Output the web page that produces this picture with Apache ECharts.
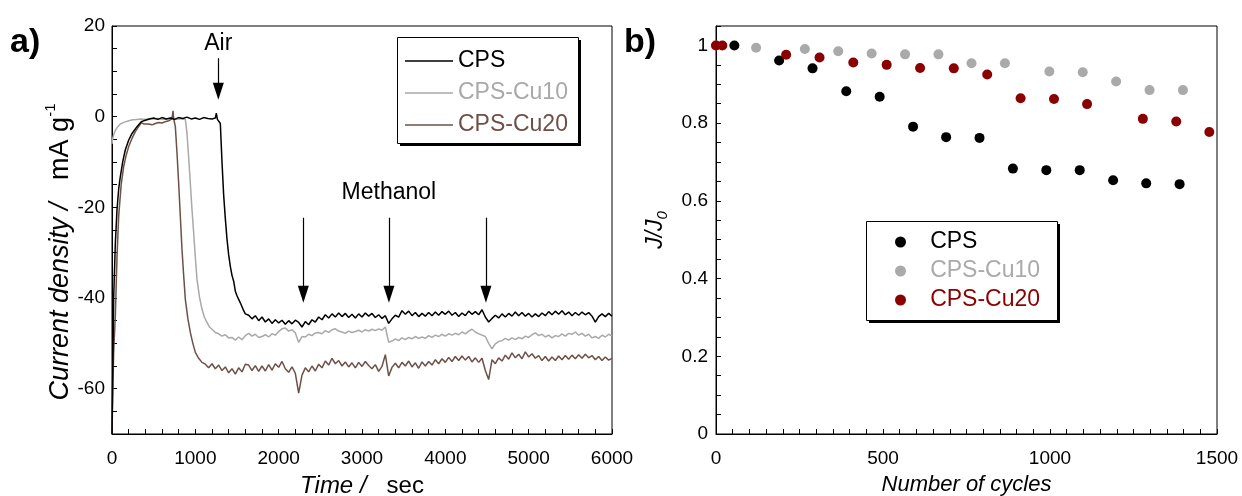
<!DOCTYPE html>
<html><head><meta charset="utf-8">
<script src="https://cdn.jsdelivr.net/npm/echarts@6/dist/echarts.min.js"></script>
<style>html,body{margin:0;padding:0;background:#fff}#c{width:1242px;height:496px}</style>
</head><body><div id="c"></div>
<script>
// ---------- Panel a) chronoamperometry ----------
const seriesNames = ['CPS', 'CPS-Cu10', 'CPS-Cu20'];

// start-up / transition segments [time (s), current density (mA/g)]
const cpsRamp = [[0,-70],[10,-55],[20,-40],[40,-28],[60,-20.5],[80,-16],[100,-13.2],[130,-9.8],[160,-7.3],[200,-5.2],[240,-3.7],[300,-2.2],[352,-1.1],[400,-0.8],[450,-0.5],[500,-0.3],[550,-0.6],[600,-0.2],[650,-0.5],[700,-0.3],[750,-0.6],[800,-0.2],[850,-0.4],[900,-0.1],[950,-0.5],[1000,-0.3],[1050,-0.6],[1100,-0.2],[1150,-0.4],[1200,-0.5],[1240,-0.3],[1252,0.8],[1265,-0.6],[1300,-1.5],[1320,-10],[1340,-17.3],[1360,-22.5],[1380,-27],[1400,-30.5],[1420,-33],[1440,-35],[1460,-36.3],[1480,-38.5],[1500,-39.5],[1520,-40.3],[1550,-41.5],[1580,-42.8],[1600,-43.5]];
const cu10Ramp = [[0,-6],[10,-4.7],[20,-4],[40,-3],[70,-2.2],[100,-1.6],[150,-1.2],[200,-0.9],[250,-0.7],[300,-0.6],[350,-0.5],[400,-0.6],[450,-0.4],[500,-0.5],[550,-0.4],[600,-0.6],[650,-0.5],[700,-0.4],[750,-0.6],[800,-0.5],[850,-0.5],[880,-0.6],[900,-3.7],[920,-9],[940,-14.7],[960,-20.5],[980,-25.6],[1000,-31],[1020,-35.9],[1050,-39.8],[1080,-42.5],[1110,-44.3],[1140,-45.4],[1170,-46.4],[1200,-46.9],[1240,-47.6],[1280,-47.9],[1320,-48.4],[1360,-48.1],[1400,-48.8],[1440,-48.7],[1480,-49.3],[1520,-48.6],[1560,-49.2],[1600,-48.3]];
const cu20Ramp = [[0,-70],[10,-60],[20,-52],[40,-43.9],[60,-31],[80,-22],[110,-15],[140,-11],[170,-8.5],[200,-6.6],[240,-4.8],[280,-3.3],[320,-2.2],[352,-1.3],[380,-1.6],[400,-1.9],[440,-1.6],[480,-1.8],[520,-1.5],[560,-1.3],[600,-1.4],[640,-1.1],[680,-0.9],[710,-0.6],[725,0.2],[732,1.3],[740,-0.4],[760,-2.2],[780,-8],[800,-14.7],[820,-22],[840,-29.3],[860,-35],[880,-40.3],[910,-44.5],[940,-47.6],[970,-50],[1000,-52],[1040,-53.3],[1080,-54.2],[1120,-54.6],[1160,-55.4],[1200,-54.5],[1240,-55.6],[1280,-54.8],[1320,-56.0],[1360,-55.2],[1400,-56.5],[1440,-55.6],[1480,-56.8],[1520,-55.4],[1560,-56.3],[1600,-54.6]];

// steady-state segment, shared time grid (s)
const steadyTime = [1640,1680,1720,1760,1800,1840,1880,1920,1960,2000,
  2040,2080,2120,2160,2200,2240,2280,2320,2360,2400,
  2440,2480,2520,2560,2600,2640,2680,2720,2760,2800,
  2840,2880,2920,2960,3000,3040,3080,3120,3160,3200,
  3240,3280,3320,3360,3400,3440,3480,3520,3560,3600,
  3640,3680,3720,3760,3800,3840,3880,3920,3960,4000,
  4040,4080,4120,4160,4200,4240,4280,4320,4360,4400,
  4440,4480,4520,4560,4600,4640,4680,4720,4760,4800,
  4840,4880,4920,4960,5000,5040,5080,5120,5160,5200,
  5240,5280,5320,5360,5400,5440,5480,5520,5560,5600,
  5640,5680,5720,5760,5800,5840,5880,5920,5960,6000];
const cpsSteady = [-43.8,-44.6,-43.9,-45.0,-44.2,-45.3,-44.6,-45.6,-44.8,-45.5,
  -44.9,-45.8,-45.0,-45.7,-44.9,-45.4,-46.4,-45.2,-45.9,-44.8,
  -45.3,-44.2,-44.8,-43.7,-44.4,-43.5,-44.2,-43.3,-44.1,-43.4,
  -44.3,-43.6,-44.4,-43.5,-44.2,-43.3,-44.0,-43.4,-44.3,-43.7,
  -44.5,-43.9,-45.6,-44.6,-43.8,-44.2,-42.8,-43.6,-42.9,-43.9,
  -43.2,-44.1,-43.4,-44.0,-43.2,-43.9,-43.1,-43.8,-43.0,-43.6,
  -42.9,-43.8,-43.2,-44.1,-43.3,-43.9,-42.9,-43.6,-43.0,-43.7,
  -42.6,-44.2,-45.3,-44.5,-43.8,-44.4,-43.5,-44.2,-43.4,-44.0,
  -43.1,-43.9,-43.2,-44.0,-43.4,-44.2,-43.5,-44.1,-43.3,-43.9,
  -43.0,-43.7,-42.9,-43.6,-42.8,-43.7,-43.1,-43.9,-43.2,-43.8,
  -43.1,-43.7,-43.2,-44.0,-45.3,-44.1,-43.5,-44.1,-43.4,-44.0];
const cu10Steady = [-47.8,-48.4,-48.0,-48.7,-48.5,-48.1,-48.6,-47.9,-48.2,-47.4,
  -46.8,-46.6,-47.3,-47.0,-47.7,-49.8,-48.5,-48.6,-48.0,-48.3,
  -47.7,-47.6,-47.9,-47.2,-47.6,-47.0,-46.8,-47.3,-47.5,-47.8,
  -47.3,-47.6,-47.4,-47.1,-47.5,-47.0,-47.3,-46.9,-47.2,-46.8,
  -47.1,-46.4,-49.8,-49.5,-49.0,-49.4,-48.8,-49.2,-48.7,-49.0,
  -48.5,-48.9,-48.6,-48.9,-48.3,-48.7,-48.2,-48.5,-48.0,-48.4,
  -47.9,-48.2,-47.8,-48.1,-47.5,-47.9,-47.3,-46.9,-47.5,-47.9,
  -48.2,-48.5,-50.0,-51.2,-50.1,-49.6,-49.4,-48.9,-49.3,-48.8,
  -49.2,-48.7,-49.0,-48.4,-48.7,-48.1,-47.7,-48.3,-48.0,-48.6,
  -48.2,-48.8,-48.3,-48.5,-47.9,-48.4,-47.8,-48.0,-47.5,-48.2,
  -47.8,-48.4,-48.0,-48.8,-48.5,-48.9,-48.2,-48.6,-48.0,-48.4];
const cu20Steady = [-54.8,-56.0,-54.9,-56.2,-55.0,-56.1,-54.7,-55.9,-54.5,-55.3,
  -54.0,-55.6,-56.4,-55.2,-56.6,-61.0,-57.0,-55.4,-56.3,-55.0,
  -56.1,-54.6,-55.4,-53.9,-54.8,-53.3,-54.5,-53.8,-55.0,-54.1,
  -55.2,-54.3,-55.4,-54.2,-55.1,-54.0,-54.9,-55.6,-54.7,-56.2,
  -55.1,-52.5,-57.2,-55.3,-54.4,-55.4,-54.2,-55.0,-53.9,-55.2,
  -54.3,-55.5,-54.1,-55.0,-54.0,-54.8,-53.6,-54.5,-53.4,-54.2,
  -53.1,-54.0,-52.9,-53.8,-52.8,-53.7,-52.9,-54.1,-53.2,-54.2,
  -53.3,-56.0,-58.0,-53.6,-54.5,-53.2,-53.9,-52.6,-53.5,-52.1,
  -53.2,-52.4,-53.4,-51.9,-53.0,-52.3,-53.3,-52.7,-53.8,-52.9,
  -53.9,-53.0,-53.8,-52.8,-53.6,-52.7,-53.5,-52.6,-53.4,-52.5,
  -53.3,-52.4,-53.2,-52.7,-53.6,-52.9,-53.8,-53.0,-53.7,-53.3];

// annotation arrows (time, top value, end value)
const airArrow = {t: 1276, top: 12.9, end: 5.6};
const methanolTimes = [2296, 3323, 4487];
const methanolTop = -22.3;
const methanolEnd = -39.2;

// ---------- Panel b) stability ----------
const cpsCycles  = [55,189,289,390,490,590,689,789,889,989,1089,1189,1288,1388];
const cpsRatio   = [1.0,0.961,0.941,0.882,0.868,0.791,0.764,0.762,0.683,0.679,0.679,0.653,0.645,0.643];
const cu10Cycles = [0,120,266,366,466,566,666,765,865,998,1098,1198,1298,1398];
const cu10Ratio  = [1.0,0.994,0.991,0.985,0.979,0.977,0.977,0.954,0.954,0.933,0.931,0.907,0.885,0.885];
const cu20Cycles = [0,19,210,310,411,511,611,712,812,912,1012,1111,1278,1378,1477];
const cu20Ratio  = [1.0,1.0,0.976,0.969,0.956,0.950,0.942,0.941,0.925,0.864,0.862,0.849,0.811,0.804,0.777];

const lineColors = ['#000000', '#a9a9a9', '#6e5048'];
const dotColors  = ['#000000', '#aaaaaa', '#8b0000'];

const F = '"Liberation Sans", Arial, sans-serif';
const zip = (a, b) => a.map((v, i) => [v, b[i]]);
const steady = (vals) => steadyTime.map((t, i) => [t, vals[i]]);

const axisBase = {
  axisLine: {show: true, onZero: false, lineStyle: {color: '#000', width: 1}},
  axisTick: {show: true, inside: true, length: 5, lineStyle: {color: '#000', width: 1}},
  splitLine: {show: false},
  minorTick: {show: false}
};
const labelBase = {color: '#000', fontFamily: F, fontSize: 19};

const arrowLines = [
  [{coord: [airArrow.t, airArrow.top], label: {show: true, formatter: 'Air', distance: 3}},
   {coord: [airArrow.t, airArrow.end]}],
  ...methanolTimes.map((t, i) => [
    {coord: [t, methanolTop], label: {show: i === 1, formatter: 'Methanol', distance: 14}},
    {coord: [t, methanolEnd]}])
];

// legend frame boxes (decoration): [x, y, w, h]
const legendBoxes = [[397, 37, 181, 106], [866, 221, 191, 99]];
const frameGraphics = [];
legendBoxes.forEach(b => {
  frameGraphics.push({type: 'rect', z: 5, shape: {x: b[0] + 3, y: b[1] + 3, width: b[2], height: b[3]}, style: {fill: '#000'}});
  frameGraphics.push({type: 'rect', z: 5, shape: {x: b[0] + 0.5, y: b[1] + 0.5, width: b[2], height: b[3]}, style: {fill: '#fff', stroke: '#000', lineWidth: 1}});
});

const option = {
  animation: false,
  backgroundColor: '#fff',
  title: [
    {text: 'a)', left: 5, top: 21, textStyle: {fontFamily: F, fontSize: 34, fontWeight: 'bold', color: '#000'}},
    {text: 'b)', left: 619, top: 21, textStyle: {fontFamily: F, fontSize: 34, fontWeight: 'bold', color: '#000'}}
  ],
  graphic: frameGraphics,
  grid: [
    {left: 112, top: 26, width: 500, height: 408, outerBoundsMode: 'none', containLabel: false, show: true, borderColor: '#000', borderWidth: 1, backgroundColor: 'transparent'},
    {left: 716, top: 26, width: 501, height: 408, outerBoundsMode: 'none', containLabel: false, show: true, borderColor: '#000', borderWidth: 1, backgroundColor: 'transparent'}
  ],
  xAxis: [
    Object.assign({}, axisBase, {
      type: 'value', gridIndex: 0, min: 0, max: 6000, interval: 200,
      axisLabel: Object.assign({}, labelBase, {margin: 15, formatter: v => (v % 1000 === 0 ? String(v) : '')}),
      name: '{i|Time /}{n|   sec}', nameLocation: 'middle', nameGap: 40,
      nameTextStyle: {rich: {i: {fontFamily: F, fontSize: 24, fontStyle: 'italic', color: '#000'}, n: {fontFamily: F, fontSize: 24, color: '#000'}}}
    }),
    Object.assign({}, axisBase, {
      type: 'value', gridIndex: 1, min: 0, max: 1500, interval: 50,
      axisLabel: Object.assign({}, labelBase, {margin: 15, formatter: v => (v % 500 === 0 ? String(v) : '')}),
      name: 'Number of cycles', nameLocation: 'middle', nameGap: 40,
      nameTextStyle: {fontFamily: F, fontSize: 22, fontStyle: 'italic', color: '#000'}
    })
  ],
  yAxis: [
    Object.assign({}, axisBase, {
      type: 'value', gridIndex: 0, min: -70, max: 20, interval: 5,
      axisLabel: Object.assign({}, labelBase, {margin: 7, formatter: v => (v % 20 === 0 ? String(v) : '')}),
      name: '{i|Current density /}{n|   mA g}{s|-1}', nameLocation: 'middle', nameGap: 34, nameRotate: 90,
      nameTextStyle: {rich: {
        i: {fontFamily: F, fontSize: 27, fontStyle: 'italic', color: '#000'},
        n: {fontFamily: F, fontSize: 27, color: '#000'},
        s: {fontFamily: F, fontSize: 15, color: '#000', padding: [0, 44, 18, 0]}
      }}
    }),
    Object.assign({}, axisBase, {
      type: 'value', gridIndex: 1, min: 0, max: 1.05, interval: 0.05,
      axisLabel: Object.assign({}, labelBase, {margin: 8, formatter: v => {
        const k = Math.round(v * 100);
        return (k % 20 === 0 && k <= 100) ? String(k / 100) : '';
      }}),
      name: '{i|J/J}{s|0}', nameLocation: 'middle', nameGap: 46, nameRotate: 90,
      nameTextStyle: {rich: {
        i: {fontFamily: F, fontSize: 23, fontStyle: 'italic', color: '#000'},
        s: {fontFamily: F, fontSize: 15, fontStyle: 'italic', color: '#000', padding: [14, 0, 0, 0]}
      }}
    })
  ],
  legend: [
    {
      orient: 'vertical', left: 397, top: 39, padding: [10, 10, 6, 8], z: 6,
      itemWidth: 48, itemHeight: 1.5, itemGap: 8, selectedMode: false,
      textStyle: {fontFamily: F, fontSize: 23, lineHeight: 24},
      data: seriesNames.map((n, i) => ({name: n, icon: 'rect', itemStyle: {color: lineColors[i]}, textStyle: {color: lineColors[i]}}))
    },
    {
      orient: 'vertical', left: 866, top: 222, padding: [8, 10, 10, 29], z: 6,
      itemWidth: 11, itemHeight: 11, itemGap: 5, selectedMode: false,
      formatter: name => '   ' + name,
      textStyle: {fontFamily: F, fontSize: 23, lineHeight: 24},
      data: seriesNames.map((n, i) => ({name: n, icon: 'circle', itemStyle: {color: dotColors[i]}, textStyle: {color: dotColors[i]}}))
    }
  ],
  series: [
    {name: seriesNames[0], type: 'line', xAxisIndex: 0, yAxisIndex: 0, symbol: 'none', color: lineColors[0],
      lineStyle: {color: lineColors[0], width: 1.5}, data: cpsRamp.concat(steady(cpsSteady)), z: 4,
      markLine: {silent: true, symbol: ['none', 'triangle'], symbolSize: [11, 17],
        lineStyle: {color: '#000', width: 1.2, type: 'solid'},
        label: {position: 'start', color: '#000', fontFamily: F, fontSize: 23},
        data: arrowLines}},
    {name: seriesNames[1], type: 'line', xAxisIndex: 0, yAxisIndex: 0, symbol: 'none', color: lineColors[1],
      lineStyle: {color: lineColors[1], width: 1.5}, data: cu10Ramp.concat(steady(cu10Steady)), z: 3},
    {name: seriesNames[2], type: 'line', xAxisIndex: 0, yAxisIndex: 0, symbol: 'none', color: lineColors[2],
      lineStyle: {color: lineColors[2], width: 1.5}, data: cu20Ramp.concat(steady(cu20Steady)), z: 3},
    {name: seriesNames[1], type: 'scatter', xAxisIndex: 1, yAxisIndex: 1, symbolSize: 10, color: dotColors[1],
      itemStyle: {color: dotColors[1], opacity: 1}, data: zip(cu10Cycles, cu10Ratio)},
    {name: seriesNames[0], type: 'scatter', xAxisIndex: 1, yAxisIndex: 1, symbolSize: 10, color: dotColors[0],
      itemStyle: {color: dotColors[0], opacity: 1}, data: zip(cpsCycles, cpsRatio)},
    {name: seriesNames[2], type: 'scatter', xAxisIndex: 1, yAxisIndex: 1, symbolSize: 10, color: dotColors[2],
      itemStyle: {color: dotColors[2], opacity: 1}, data: zip(cu20Cycles, cu20Ratio)}
  ]
};

const chart = echarts.init(document.getElementById('c'), null, {renderer: 'canvas'});
chart.setOption(option);
</script></body></html>
